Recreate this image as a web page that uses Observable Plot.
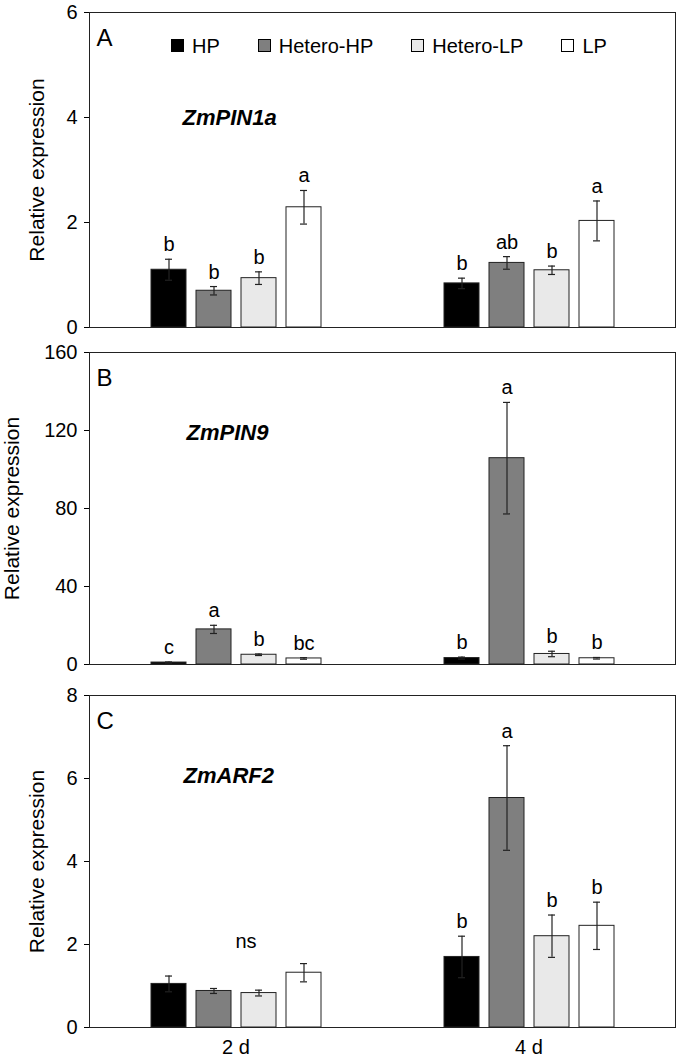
<!DOCTYPE html>
<html><head><meta charset="utf-8">
<script src="https://cdn.jsdelivr.net/npm/d3@7"></script>
<script src="https://cdn.jsdelivr.net/npm/@observablehq/plot@0.6"></script>
<style>
body{margin:0;background:#fff;}
#chart{position:relative;width:683px;font-family:"Liberation Sans",Arial,sans-serif;}
#chart svg{display:block;}
#chart svg g[aria-label="y-axis label"] text{font-size:21px;}
#legend{position:absolute;left:171px;top:35.5px;display:flex;gap:38px;font-size:20px;line-height:20px;color:#000;}
.item{display:flex;align-items:center;gap:8px;}
.sw{width:11px;height:11px;border:1px solid #000;box-sizing:content-box;}
</style></head><body><div id="chart"><div id="legend"></div></div>
<script>
const days = ["2 d", "4 d"];
const treatments = ["HP", "Hetero-HP", "Hetero-LP", "LP"];
const colors = ["#000000", "#7f7f7f", "#e9e9e9", "#ffffff"];

// Panel A: ZmPIN1a
const pin1a_2d_mean = [1.10, 0.70, 0.94, 2.29];
const pin1a_2d_se   = [0.20, 0.08, 0.12, 0.32];
const pin1a_2d_sig  = ["b", "b", "b", "a"];
const pin1a_4d_mean = [0.84, 1.23, 1.09, 2.03];
const pin1a_4d_se   = [0.10, 0.12, 0.08, 0.38];
const pin1a_4d_sig  = ["b", "ab", "b", "a"];

// Panel B: ZmPIN9
const pin9_2d_mean = [1.0, 18.0, 5.0, 3.1];
const pin9_2d_se   = [0.3, 2.1, 0.4, 0.4];
const pin9_2d_sig  = ["c", "a", "b", "bc"];
const pin9_4d_mean = [3.3, 105.8, 5.4, 3.2];
const pin9_4d_se   = [0.5, 28.6, 1.4, 0.4];
const pin9_4d_sig  = ["b", "a", "b", "b"];

// Panel C: ZmARF2
const arf2_2d_mean = [1.05, 0.88, 0.83, 1.32];
const arf2_2d_se   = [0.19, 0.06, 0.07, 0.22];
const arf2_2d_sig  = ["", "", "", ""];
const arf2_4d_mean = [1.70, 5.53, 2.20, 2.45];
const arf2_4d_se   = [0.50, 1.26, 0.51, 0.57];
const arf2_4d_sig  = ["b", "a", "b", "b"];

const yTicksA = [0, 2, 4, 6];
const yTicksB = [0, 40, 80, 120, 160];
const yTicksC = [0, 2, 4, 6, 8];

function rowsOf(m2, s2, g2, m4, s4, g4) {
  const out = [];
  [[m2, s2, g2], [m4, s4, g4]].forEach(([m, s, g], i) => {
    treatments.forEach((t, j) => out.push({day: days[i], t, mean: m[j], se: s[j], sig: g[j]}));
  });
  return out;
}

const font = '"Liberation Sans", Arial, sans-serif';
const ink = "#222";

function panel({rows, yDomain, yTicks, gene, geneY, geneDx, letter, height, marginTop, marginBottom, labelOffset, showFx, extra = []}) {
  return Plot.plot({
    width: 683, height, marginLeft: 89, marginRight: 8, marginTop, marginBottom,
    style: {fontFamily: font, fontSize: "20px", color: "#000", background: "#fff", overflow: "visible"},
    fx: {domain: days, padding: 0, axis: showFx ? "bottom" : null, label: null, tickSize: 0, tickPadding: 12},
    x: {domain: treatments, paddingInner: 0.23, paddingOuter: 1.32, axis: null},
    y: {domain: yDomain, ticks: yTicks, tickFormat: d => String(d), tickSize: 5, tickPadding: 7, label: "Relative expression",
        labelAnchor: "center", labelOffset, labelArrow: "none"},
    color: {domain: treatments, range: colors},
    marks: [
      Plot.barY(rows, {fx: "day", x: "t", y: "mean", fill: "t", stroke: ink, strokeWidth: 1}),
      Plot.ruleX(rows, {fx: "day", x: "t", y1: d => d.mean - d.se, y2: d => d.mean + d.se, stroke: ink, strokeWidth: 1.2}),
      Plot.tickY(rows, {fx: "day", x: "t", y: d => d.mean + d.se, inset: 14, stroke: ink, strokeWidth: 1.2}),
      Plot.tickY(rows, {fx: "day", x: "t", y: d => d.mean - d.se, inset: 14, stroke: ink, strokeWidth: 1.2}),
      Plot.text(rows, {fx: "day", x: "t", y: d => d.mean + d.se, text: "sig", dy: -8, lineAnchor: "bottom", fontSize: 20, fill: "#000"}),
      Plot.text([{day: days[0], g: gene, y: geneY}], {fx: "day", y: "y", text: "g", frameAnchor: "left", dx: geneDx,
        textAnchor: "start", fontWeight: "bold", fontStyle: "italic", fontSize: 22, fill: "#000"}),
      Plot.text([{day: days[0], l: letter}], {fx: "day", text: "l", frameAnchor: "top-left", dx: 7, dy: 33,
        lineAnchor: "bottom", textAnchor: "start", fontSize: 24, fill: "#000"}),
      ...extra,
      Plot.frame({facet: "super", stroke: ink, strokeWidth: 1})
    ]
  });
}

const chart = document.getElementById("chart");

chart.appendChild(panel({
  rows: rowsOf(pin1a_2d_mean, pin1a_2d_se, pin1a_2d_sig, pin1a_4d_mean, pin1a_4d_se, pin1a_4d_sig),
  yDomain: [0, 6], yTicks: yTicksA, gene: "ZmPIN1a", geneY: 4, geneDx: 93, letter: "A",
  height: 340, marginTop: 12, marginBottom: 13, labelOffset: 60, showFx: false
}));
chart.appendChild(panel({
  rows: rowsOf(pin9_2d_mean, pin9_2d_se, pin9_2d_sig, pin9_4d_mean, pin9_4d_se, pin9_4d_sig),
  yDomain: [0, 160], yTicks: yTicksB, gene: "ZmPIN9", geneY: 118.5, geneDx: 97, letter: "B",
  height: 338, marginTop: 12, marginBottom: 14, labelOffset: 85, showFx: false
}));
chart.appendChild(panel({
  rows: rowsOf(arf2_2d_mean, arf2_2d_se, arf2_2d_sig, arf2_4d_mean, arf2_4d_se, arf2_4d_sig),
  yDomain: [0, 8], yTicks: yTicksC, gene: "ZmARF2", geneY: 6.05, geneDx: 94, letter: "C",
  height: 383, marginTop: 17, marginBottom: 34, labelOffset: 60, showFx: true,
  extra: [Plot.text([{day: days[0], l: "ns", y: 2.06}], {fx: "day", y: "y", text: "l", frameAnchor: "middle", dx: 10, fontSize: 20, fill: "#000"})]
}));

// Legend
const legend = document.getElementById("legend");
treatments.forEach((t, i) => {
  const item = document.createElement("div");
  item.className = "item";
  const sw = document.createElement("div");
  sw.className = "sw";
  sw.style.background = colors[i];
  const lab = document.createElement("span");
  lab.textContent = t;
  item.appendChild(sw); item.appendChild(lab);
  legend.appendChild(item);
});
</script></body></html>
